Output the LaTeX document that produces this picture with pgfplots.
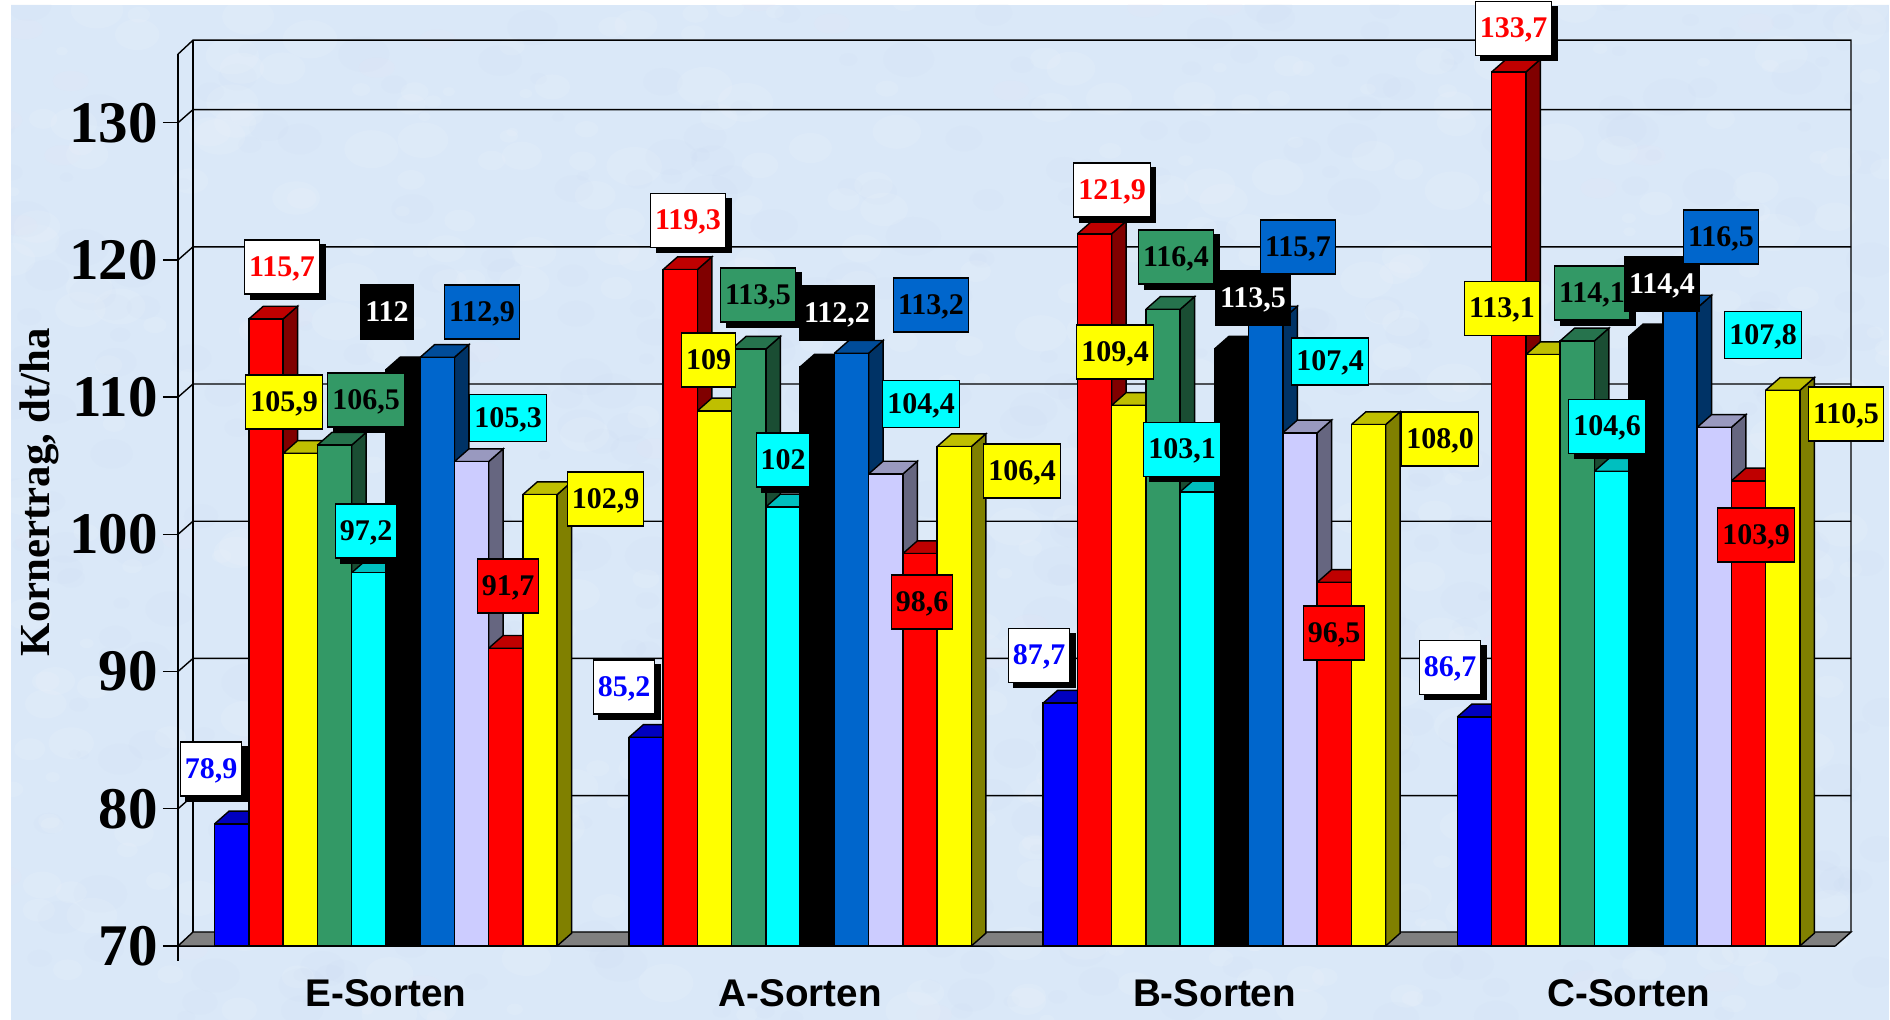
\documentclass[border=0pt]{standalone}
\usepackage{fontspec}
\setmainfont{Liberation Serif}
\newfontfamily\sansb{Liberation Sans}[BoldFont=* Bold]
\usepackage{pgfplots}
\pgfplotsset{compat=1.18}
\usetikzlibrary{calc}

% chart colours: front, top and side of the bars
\definecolor{f0}{HTML}{0000FF}\definecolor{t0}{HTML}{0000BF}\definecolor{s0}{HTML}{000080}
\definecolor{f1}{HTML}{FF0000}\definecolor{t1}{HTML}{BF0000}\definecolor{s1}{HTML}{800000}
\definecolor{f2}{HTML}{FFFF00}\definecolor{t2}{HTML}{BFBF00}\definecolor{s2}{HTML}{808000}
\definecolor{f3}{HTML}{339966}\definecolor{t3}{HTML}{26734D}\definecolor{s3}{HTML}{1A4D33}
\definecolor{f4}{HTML}{00FFFF}\definecolor{t4}{HTML}{00BFBF}\definecolor{s4}{HTML}{008080}
\definecolor{f5}{HTML}{000000}\definecolor{t5}{HTML}{000000}\definecolor{s5}{HTML}{000000}
\definecolor{f6}{HTML}{0066CC}\definecolor{t6}{HTML}{004C99}\definecolor{s6}{HTML}{003366}
\definecolor{f7}{HTML}{CCCCFF}\definecolor{t7}{HTML}{9999BF}\definecolor{s7}{HTML}{666680}
\definecolor{f8}{HTML}{FF0000}\definecolor{t8}{HTML}{BF0000}\definecolor{s8}{HTML}{800000}
\definecolor{f9}{HTML}{FFFF00}\definecolor{t9}{HTML}{BFBF00}\definecolor{s9}{HTML}{808000}
\definecolor{bg}{HTML}{DAE8F8}
\definecolor{bgdark}{HTML}{BCD2EC}
\definecolor{bgpink}{HTML}{EDE4F4}
\definecolor{floorgray}{HTML}{808080}
\definecolor{lbblue}{HTML}{0066CC}
\definecolor{lbgreen}{HTML}{339966}
\definecolor{lblcyan}{HTML}{00FFFF}

% one bar: group, series, value (x runs in picture pixels)
\newcommand{\barthree}[3]{%
  \pgfmathsetmacro\xa{214.6+414.25*#1+34.25*#2}%
  \pgfmathsetmacro\xb{\xa+34.25}%
  \pgfmathsetmacro\xc{\xa+14.5}%
  \pgfmathsetmacro\xd{\xb+14.5}%
  \pgfmathsetmacro\yt{#3+0.93}%
  \addplot[draw=black,fill=s#2,line width=0.7pt,forget plot] coordinates {(\xb,70) (\xb,#3) (\xd,\yt) (\xd,70.93) (\xb,70)};
  \addplot[draw=black,fill=t#2,line width=0.7pt,forget plot] coordinates {(\xa,#3) (\xc,\yt) (\xd,\yt) (\xb,#3) (\xa,#3)};
  \addplot[draw=black,fill=f#2,line width=0.7pt,forget plot] coordinates {(\xa,70) (\xa,#3) (\xb,#3) (\xb,70) (\xa,70)};
}
% value label: x px, y px, box height, fill, text colour, text
\tikzset{lab/.style={inner xsep=2.2pt,inner ysep=0pt,text height=11.1pt,text depth=2pt,
  draw=black,line width=0.6pt,font=\fontsize{15}{16}\selectfont\bfseries,anchor=center}}
\newcommand{\lb}[6]{\node[lab,minimum height=#3pt,fill=#4,text=#5] at (#1*0.5pt,510pt-#2*0.5pt) {#6};}
\newcommand{\lbs}[6]{%
  \node[lab,minimum height=#3pt,fill=black] at (#1*0.5pt+2.8pt,510pt-#2*0.5pt-2.5pt) {\phantom{#6}};
  \lb{#1}{#2}{#3}{#4}{#5}{#6}}

\begin{document}
\begin{tikzpicture}
\path[use as bounding box] (0,0) rectangle (945pt,510pt);
\fill[white] (0,0) rectangle (945pt,510pt);
\begin{scope}
\clip (5.5pt,0) rectangle (944.5pt,507.5pt);
\fill[bg] (5.5pt,0) rectangle (944.5pt,507.5pt);
% mottled paper behind the chart
\pgfmathsetseed{11}
\foreach \i in {1,...,500}{
  \pgfmathsetmacro\bx{rnd*945}
  \pgfmathsetmacro\by{rnd*510}
  \pgfmathsetmacro\br{3+rnd*11}
  \fill[bgdark,opacity=0.06] (\bx pt,\by pt) ellipse ({\br pt} and {0.7*\br pt});
  \pgfmathsetmacro\bx{rnd*945}
  \pgfmathsetmacro\by{rnd*510}
  \pgfmathsetmacro\br{3+rnd*11}
  \fill[white,opacity=0.09] (\bx pt,\by pt) ellipse ({\br pt} and {0.7*\br pt});
}
\foreach \i in {1,...,60}{
  \pgfmathsetmacro\bx{rnd*945}
  \pgfmathsetmacro\by{rnd*510}
  \fill[bgpink,opacity=0.12] (\bx pt,\by pt) ellipse (9pt and 5pt);
}
\end{scope}

\begin{axis}[
  at={(89pt,37pt)},anchor=south west,
  x=0.5pt,y=6.86pt,
  xmin=178,xmax=1835.25,ymin=70,ymax=135,
  clip=false,
  axis x line*=bottom,axis y line*=left,
  axis line style={-,line width=0.7pt},
  tick align=outside,major tick length=7.5pt,
  tick style={black,line width=0.7pt},
  ytick={70,80,...,130},
  xtick={178},xticklabels={},
  extra x ticks={386,800.25,1214.5,1628.75},
  extra x tick labels={E-Sorten,A-Sorten,B-Sorten,C-Sorten},
  extra x tick style={major tick length=0pt,
    tick label style={font=\sansb\fontsize{19.3}{20}\selectfont\bfseries,yshift=-13pt}},
  yticklabel style={font=\fontsize{29.5}{31}\selectfont\bfseries,xshift=0.8pt},
  /pgf/number format/assume math mode=true,
  every axis y label/.style={at={(axis description cs:-0.0836,0.509)},rotate=90,anchor=center,
    font=\fontsize{21.4}{24}\selectfont\bfseries},
  ylabel={Kornertrag, dt/ha},
]
% back wall and floor
\addplot[draw=black,line width=0.7pt,forget plot] coordinates {(178,135) (193,136.02) (1851,136.02) (1851,71.02)};
\addplot[draw=black,line width=0.7pt,forget plot] coordinates {(193,136.02) (193,71.02)};
\addplot[draw=black,fill=floorgray,line width=0.7pt,forget plot] coordinates {(178,70) (193,71.02) (1851,71.02) (1835.25,70) (178,70)};
\addplot[draw=black,line width=0.7pt,forget plot] coordinates {(178,80) (193,80.96) (1851,80.96)};
\addplot[draw=black,line width=0.7pt,forget plot] coordinates {(178,90) (193,90.96) (1851,90.96)};
\addplot[draw=black,line width=0.7pt,forget plot] coordinates {(178,100) (193,100.96) (1851,100.96)};
\addplot[draw=black,line width=0.7pt,forget plot] coordinates {(178,110) (193,110.96) (1851,110.96)};
\addplot[draw=black,line width=0.7pt,forget plot] coordinates {(178,120) (193,120.96) (1851,120.96)};
\addplot[draw=black,line width=0.7pt,forget plot] coordinates {(178,130) (193,130.96) (1851,130.96)};

% E-Sorten
\barthree{0}{0}{78.9}\barthree{0}{1}{115.7}\barthree{0}{2}{105.9}\barthree{0}{3}{106.5}\barthree{0}{4}{97.2}
\barthree{0}{5}{112}\barthree{0}{6}{112.9}\barthree{0}{7}{105.3}\barthree{0}{8}{91.7}\barthree{0}{9}{102.9}
% A-Sorten
\barthree{1}{0}{85.2}\barthree{1}{1}{119.3}\barthree{1}{2}{109}\barthree{1}{3}{113.5}\barthree{1}{4}{102}
\barthree{1}{5}{112.2}\barthree{1}{6}{113.2}\barthree{1}{7}{104.4}\barthree{1}{8}{98.6}\barthree{1}{9}{106.4}
% B-Sorten
\barthree{2}{0}{87.7}\barthree{2}{1}{121.9}\barthree{2}{2}{109.4}\barthree{2}{3}{116.4}\barthree{2}{4}{103.1}
\barthree{2}{5}{113.5}\barthree{2}{6}{115.7}\barthree{2}{7}{107.4}\barthree{2}{8}{96.5}\barthree{2}{9}{108.0}
% C-Sorten
\barthree{3}{0}{86.7}\barthree{3}{1}{133.7}\barthree{3}{2}{113.1}\barthree{3}{3}{114.1}\barthree{3}{4}{104.6}
\barthree{3}{5}{114.4}\barthree{3}{6}{116.5}\barthree{3}{7}{107.8}\barthree{3}{8}{103.9}\barthree{3}{9}{110.5}
\end{axis}

% value labels, in picture pixels
\lbs{211}{769}{27}{white}{f0}{78,9}
\lbs{282}{267}{27}{white}{f1}{115,7}
\lb{284}{402}{27}{f2}{black}{105,9}
\lbs{366}{400}{27}{lbgreen}{black}{106,5}
\lbs{366}{531}{27}{lblcyan}{black}{97,2}
\lb{387}{312}{27}{black}{white}{112}
\lb{482}{312}{27}{lbblue}{black}{112,9}
\lb{508}{418}{23.5}{lblcyan}{black}{105,3}
\lb{508}{586}{27}{f1}{black}{91,7}
\lb{605.5}{499}{27}{f2}{black}{102,9}

\lbs{624}{687}{27}{white}{f0}{85,2}
\lbs{688}{220.5}{27}{white}{f1}{119,3}
\lb{708.5}{360}{27}{f2}{black}{109}
\lbs{758}{295}{27}{lbgreen}{black}{113,5}
\lbs{783}{460}{27}{lblcyan}{black}{102}
\lb{837}{313}{27}{black}{white}{112,2}
\lb{931}{305}{27}{lbblue}{black}{113,2}
\lb{921}{404}{23.5}{lblcyan}{black}{104,4}
\lb{922}{602}{27}{f1}{black}{98,6}
\lb{1022}{471}{27}{f2}{black}{106,4}

\lbs{1039}{655.5}{27}{white}{f0}{87,7}
\lbs{1112}{190}{27}{white}{f1}{121,9}
\lb{1115}{352}{27}{f2}{black}{109,4}
\lbs{1176}{257}{27}{lbgreen}{black}{116,4}
\lbs{1182}{449.5}{27}{lblcyan}{black}{103,1}
\lb{1253}{298}{27}{black}{white}{113,5}
\lb{1298}{247}{27}{lbblue}{black}{115,7}
\lb{1330}{361.5}{23.5}{lblcyan}{black}{107,4}
\lb{1334}{633}{27}{f1}{black}{96,5}
\lb{1440}{439}{27}{f2}{black}{108,0}

\lbs{1450}{667.5}{27}{white}{f0}{86,7}
\lbs{1513.5}{28.7}{27}{white}{f1}{133,7}
\lb{1502}{308.5}{27}{f2}{black}{113,1}
\lbs{1592}{293}{27}{lbgreen}{black}{114,1}
\lbs{1607}{426.5}{27}{lblcyan}{black}{104,6}
\lb{1662}{284}{27}{black}{white}{114,4}
\lb{1721}{237}{27}{lbblue}{black}{116,5}
\lb{1763}{335}{23.5}{lblcyan}{black}{107,8}
\lb{1756}{535}{27}{f1}{black}{103,9}
\lb{1846}{414}{27}{f2}{black}{110,5}
\end{tikzpicture}
\end{document}
